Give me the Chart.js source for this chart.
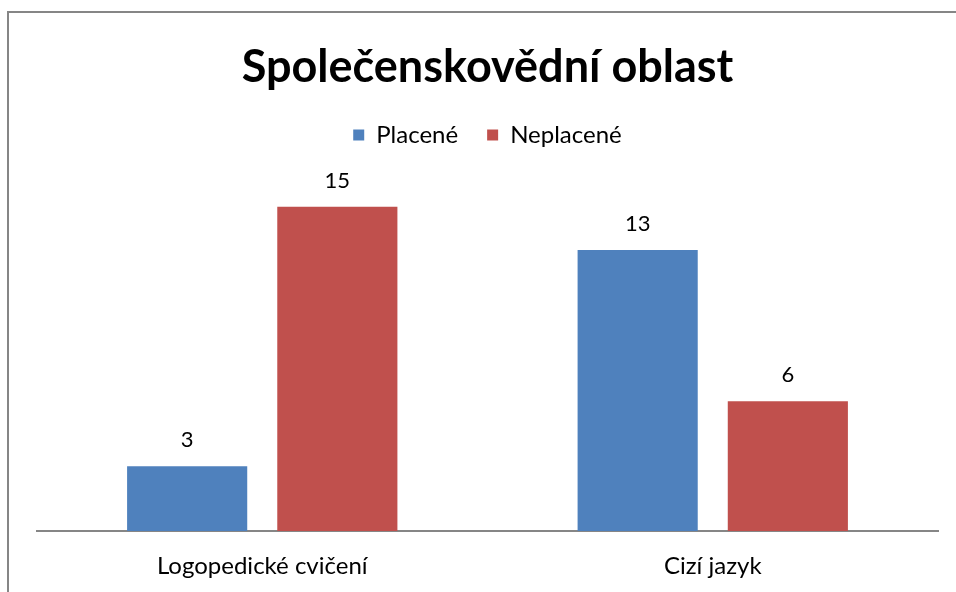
<!DOCTYPE html>
<html>
<head>
<meta charset="utf-8">
<script src="https://cdn.jsdelivr.net/npm/chart.js@4/dist/chart.umd.min.js"></script>
<style>
html,body{margin:0;padding:0;background:#fff;}
#wrap{width:956px;height:592px;position:relative;}
</style>
</head>
<body>
<div id="wrap"><canvas id="c" width="956" height="592"></canvas></div>
<script>
const titleText = 'Společenskovědní oblast';
const categories = ['Logopedické cvičení', 'Cizí jazyk'];
const seriesNames = ['Placené', 'Neplacené'];
const placene = [3, 13];
const neplacene = [15, 6];
const colors = ['#4F81BD', '#C0504D'];
const FONT = 'Lato, "Liberation Sans", sans-serif';

const frame = {
  id: 'frame',
  beforeDraw(chart) {
    const ctx = chart.ctx;
    ctx.save();
    ctx.fillStyle = '#fff';
    ctx.fillRect(0, 0, chart.width, chart.height);
    ctx.strokeStyle = '#868686';
    ctx.lineWidth = 2;
    ctx.strokeRect(8, 12, 1000, 1000);
    ctx.restore();
  }
};

const valueLabels = {
  id: 'valueLabels',
  afterDatasetsDraw(chart) {
    const ctx = chart.ctx;
    ctx.save();
    ctx.fillStyle = '#000';
    ctx.font = '22px ' + FONT;
    ctx.textAlign = 'center';
    ctx.textBaseline = 'middle';
    chart.data.datasets.forEach((ds, i) => {
      const meta = chart.getDatasetMeta(i);
      meta.data.forEach((el, j) => {
        ctx.fillText(String(ds.data[j]), el.x, el.y - 26);
      });
    });
    ctx.restore();
  }
};

new Chart(document.getElementById('c'), {
  type: 'bar',
  data: {
    labels: categories,
    datasets: [
      { label: seriesNames[0], data: placene, backgroundColor: colors[0] },
      { label: seriesNames[1], data: neplacene, backgroundColor: colors[1] }
    ]
  },
  options: {
    responsive: false,
    animation: false,
    devicePixelRatio: 1,
    categoryPercentage: 0.6667,
    barPercentage: 0.8,
    layout: { padding: { left: 37, right: 18, top: 0, bottom: -9 } },
    plugins: {
      title: {
        display: true,
        text: titleText,
        color: '#000',
        font: { family: FONT, size: 45, weight: 'bold', lineHeight: 1.2 },
        padding: { top: 40, bottom: 0 }
      },
      legend: {
        display: true,
        position: 'top',
        labels: {
          color: '#000',
          font: { family: FONT, size: 24 },
          boxWidth: 11,
          boxHeight: 11,
          padding: 29
        }
      },
      tooltip: { enabled: false }
    },
    scales: {
      x: {
        grid: { display: false, drawTicks: false },
        border: { display: true, color: '#868686', width: 2 },
        ticks: { color: '#000', font: { family: FONT, size: 24, lineHeight: 1.0 }, padding: 23, maxRotation: 0 }
      },
      y: {
        display: false,
        min: 0,
        max: 17.3
      }
    }
  },
  plugins: [frame, valueLabels]
});
</script>
</body>
</html>
